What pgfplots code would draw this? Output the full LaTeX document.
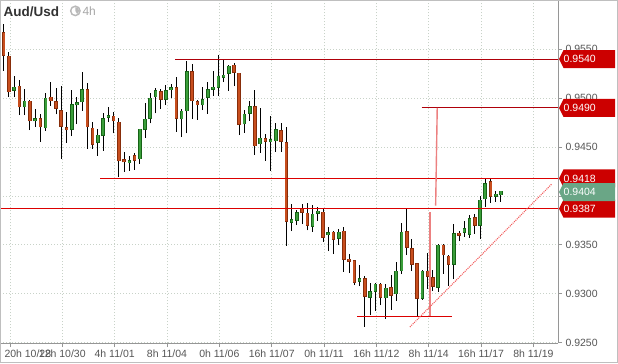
\documentclass[border=0pt]{standalone}
\usepackage{pgfplots}
\pgfplotsset{compat=1.18}
\usepackage{pgfplotstable}
\usepackage{fontspec}
\setmainfont{Liberation Sans}

\definecolor{upfill}{RGB}{58,158,58}
\definecolor{upedge}{RGB}{22,98,22}
\definecolor{dnfill}{RGB}{200,78,30}
\definecolor{dnedge}{RGB}{135,45,10}
\definecolor{lvl}{RGB}{204,0,0}
\definecolor{lvlhi}{RGB}{175,0,10}
\definecolor{lvllo}{RGB}{220,0,0}
\definecolor{lastpx}{RGB}{106,166,134}
\definecolor{proj}{RGB}{236,128,128}
\definecolor{gridc}{RGB}{200,210,200}
\definecolor{axc}{RGB}{150,150,150}
\definecolor{txt}{RGB}{85,85,85}

% AUD/USD, 4-hour candles: index, open, high, low, close
\pgfplotstableread{
n o h l c
1 0.95670 0.95755 0.95279 0.95442
2 0.95428 0.95473 0.95014 0.95065
3 0.95085 0.95224 0.95014 0.95112
4 0.95122 0.95190 0.94827 0.94912
5 0.94912 0.95092 0.94827 0.94969
6 0.94969 0.94986 0.94674 0.94769
7 0.94769 0.94888 0.94708 0.94786
8 0.94786 0.94833 0.94555 0.94708
9 0.94697 0.95054 0.94667 0.94997
10 0.95007 0.95163 0.94922 0.94973
11 0.94959 0.95099 0.94833 0.94901
12 0.94867 0.95122 0.94381 0.94714
13 0.94694 0.94854 0.94544 0.94677
14 0.94680 0.95088 0.94612 0.94935
15 0.94932 0.95014 0.94735 0.94949
16 0.94963 0.95265 0.94871 0.95088
17 0.95088 0.95160 0.94483 0.94708
18 0.94691 0.94752 0.94480 0.94527
19 0.94548 0.94684 0.94412 0.94619
20 0.94619 0.94844 0.94463 0.94786
21 0.94803 0.94905 0.94759 0.94816
22 0.94813 0.94854 0.94640 0.94769
23 0.94752 0.94796 0.94191 0.94361
24 0.94368 0.94446 0.94249 0.94351
25 0.94340 0.94408 0.94259 0.94357
26 0.94408 0.94442 0.94266 0.94364
27 0.94381 0.94687 0.94327 0.94680
28 0.94680 0.94952 0.94595 0.94782
29 0.94793 0.95054 0.94742 0.94997
30 0.95014 0.95102 0.94844 0.95078
31 0.95068 0.95092 0.94891 0.94993
32 0.94993 0.95139 0.94929 0.95078
33 0.95088 0.95146 0.94997 0.95109
34 0.95109 0.95214 0.94657 0.94799
35 0.94789 0.94888 0.94606 0.94864
36 0.94871 0.95377 0.94640 0.95272
37 0.95272 0.95347 0.94786 0.94973
38 0.94959 0.94980 0.94779 0.94935
39 0.94932 0.95112 0.94878 0.94980
40 0.95007 0.95163 0.94840 0.95088
41 0.95095 0.95275 0.95024 0.95112
42 0.95116 0.95439 0.95024 0.95224
43 0.95218 0.95394 0.95163 0.95235
44 0.95258 0.95340 0.95075 0.95326
45 0.95337 0.95360 0.95122 0.95269
46 0.95255 0.95262 0.94623 0.94731
47 0.94738 0.94878 0.94646 0.94833
48 0.94850 0.94969 0.94769 0.94908
49 0.94908 0.95088 0.94422 0.94514
50 0.94534 0.94895 0.94442 0.94589
51 0.94582 0.94633 0.94361 0.94561
52 0.94555 0.94816 0.94259 0.94575
53 0.94565 0.94748 0.94453 0.94674
54 0.94669 0.94743 0.94450 0.94562
55 0.94546 0.94706 0.93489 0.93745
56 0.93735 0.93915 0.93639 0.93752
57 0.93755 0.93854 0.93701 0.93830
58 0.93868 0.93915 0.93711 0.93837
59 0.93823 0.93926 0.93649 0.93704
60 0.93694 0.93905 0.93632 0.93813
61 0.93827 0.93888 0.93745 0.93844
62 0.93833 0.93881 0.93530 0.93581
63 0.93605 0.93680 0.93435 0.93622
64 0.93629 0.93639 0.93404 0.93561
65 0.93571 0.93666 0.93496 0.93629
66 0.93639 0.93684 0.93223 0.93353
67 0.93353 0.93411 0.93210 0.93333
68 0.93333 0.93343 0.93087 0.93121
69 0.93131 0.93298 0.93077 0.93155
70 0.93155 0.93183 0.92661 0.92978
71 0.92968 0.93111 0.92780 0.93019
72 0.93029 0.93107 0.92825 0.93097
73 0.93097 0.93107 0.92883 0.92968
74 0.92958 0.93104 0.92746 0.93056
75 0.93063 0.93189 0.92835 0.92988
76 0.93002 0.93326 0.92927 0.93230
77 0.93237 0.93728 0.93200 0.93629
78 0.93632 0.93871 0.93394 0.93479
79 0.93462 0.93557 0.93230 0.93302
80 0.93302 0.93309 0.92763 0.92951
81 0.92951 0.93247 0.92940 0.93230
82 0.93230 0.93418 0.93053 0.93182
83 0.93165 0.93240 0.93026 0.93080
84 0.93070 0.93513 0.93019 0.93496
85 0.93496 0.93506 0.93206 0.93400
86 0.93383 0.93400 0.93080 0.93305
87 0.93305 0.93717 0.93148 0.93615
88 0.93619 0.93643 0.93537 0.93602
89 0.93632 0.93741 0.93581 0.93660
90 0.93608 0.93809 0.93571 0.93769
91 0.93779 0.93820 0.93615 0.93700
92 0.93700 0.93997 0.93564 0.93956
93 0.93973 0.94171 0.93888 0.94126
94 0.94143 0.94188 0.93932 0.94000
95 0.94000 0.94048 0.93939 0.94017
96 0.94014 0.94048 0.93939 0.94048
}\candles

% price tag on the right axis: #1 anchor coordinate, #2 text, #3 colour
\newcommand{\pricetag}[3]{%
  \fill[#3] ([xshift=1bp]#1) -- ([xshift=5.5bp,yshift=9bp]#1) -- ([xshift=57bp,yshift=9bp]#1)
     -- ([xshift=57bp,yshift=-9bp]#1) -- ([xshift=5.5bp,yshift=-9bp]#1) -- cycle;
  \node[anchor=west, inner sep=0pt, text=white, font=\fontsize{10.5bp}{12bp}\selectfont] at ([xshift=5.5bp,yshift=-0.3bp]#1) {#2};}

\begin{document}
\begin{tikzpicture}
\begin{axis}[
  at={(0,0)}, anchor=south west,
  scale only axis, width=558bp, height=343bp,
  xmin=0.37, xmax=106.9, ymin=0.92494, ymax=0.9600,
  axis x line*=bottom, axis y line*=right,
  axis line style={axc, line width=0.8bp},
  tick align=outside, major tick length=4bp,
  tick style={axc, line width=0.8bp},
  xtick={12.2,22.2,32.2,42.2,52.2,62.2,72.2,82.2,92.2,102.2},
  xticklabels={12h 10/30,4h 11/01,8h 11/04,0h 11/06,16h 11/07,0h 11/11,16h 11/12,8h 11/14,16h 11/17,8h 11/19},
  extra x ticks={2.2}, extra x tick labels={20h 10/28},
  extra x tick style={xticklabel style={anchor=north west, xshift=-9bp}},
  ytick={0.9250,0.9300,0.9350,0.9400,0.9450,0.9500,0.9550},
  scaled y ticks=false,
  yticklabel style={/pgf/number format/fixed, /pgf/number format/precision=4,
    /pgf/number format/fixed zerofill, /pgf/number format/assume math mode=true},
  ticklabel style={text=txt, font=\fontsize{10.5bp}{12bp}\selectfont},
  xticklabel style={yshift=0.5bp},
  grid=major,
  major grid style={gridc, line width=0.8bp, dash pattern=on 1bp off 2bp},
  clip=true,
  unbounded coords=discard,
]
% wicks
\addplot[draw=none, mark=none, forget plot,
  error bars/.cd, y dir=plus, y explicit, error mark=none,
  error bar style={draw=black, line width=1bp, solid}]
  table[x=n, y=l, y error plus expr=\thisrow{h}-\thisrow{l}] {\candles};
% rising bodies
\addplot[draw=none, mark=none, forget plot,
  x filter/.expression={\thisrow{c}<\thisrow{o} ? nan : x},
  error bars/.cd, y dir=plus, y explicit, error mark=none,
  error bar style={draw=upedge, line width=3.6bp, solid}]
  table[x=n, y expr=\thisrow{o}-0.00007, y error plus expr=\thisrow{c}-\thisrow{o}+0.00014] {\candles};
\addplot[draw=none, mark=none, forget plot,
  x filter/.expression={\thisrow{c}<\thisrow{o} ? nan : x},
  error bars/.cd, y dir=plus, y explicit, error mark=none,
  error bar style={draw=upfill, line width=2bp, solid}]
  table[x=n, y=o, y error plus expr=\thisrow{c}-\thisrow{o}] {\candles};
% falling bodies
\addplot[draw=none, mark=none, forget plot,
  x filter/.expression={\thisrow{c}<\thisrow{o} ? x : nan},
  error bars/.cd, y dir=plus, y explicit, error mark=none,
  error bar style={draw=dnedge, line width=3.6bp, solid}]
  table[x=n, y expr=\thisrow{c}-0.00007, y error plus expr=\thisrow{o}-\thisrow{c}+0.00014] {\candles};
\addplot[draw=none, mark=none, forget plot,
  x filter/.expression={\thisrow{c}<\thisrow{o} ? x : nan},
  error bars/.cd, y dir=plus, y explicit, error mark=none,
  error bar style={draw=dnfill, line width=2bp, solid}]
  table[x=n, y=c, y error plus expr=\thisrow{o}-\thisrow{c}] {\candles};

% support / resistance levels
\addplot[lvlhi, line width=1bp] coordinates {(33.8,0.9540) (106.9,0.9540)};
\addplot[lvlhi, line width=1bp] coordinates {(80.85,0.9490) (106.9,0.9490)};
\addplot[lvllo, line width=1bp] coordinates {(19.45,0.9418) (106.9,0.9418)};
\addplot[lvllo, line width=1.1bp] coordinates {(0.37,0.9387) (106.9,0.9387)};
\addplot[lvllo, line width=1.1bp] coordinates {(68.56,0.9277) (86.63,0.9277)};
% measured move projection
\addplot[proj, line width=1.4bp] coordinates {(82.43,0.9277) (82.43,0.9384)};
\addplot[proj, line width=1.4bp] coordinates {(83.52,0.9390) (83.82,0.9490)};
% rising trendline
\addplot[proj!70!red, line width=1.1bp, dash pattern=on 1bp off 1bp] coordinates {(78.6,0.9266) (105.66,0.9412)};

\coordinate (T1) at (axis cs:106.9,0.9540);
\coordinate (T2) at (axis cs:106.9,0.9490);
\coordinate (T3) at (axis cs:106.9,0.9418);
\coordinate (T4) at (axis cs:106.9,0.9404);
\coordinate (T5) at (axis cs:106.9,0.9387);
\end{axis}

\pricetag{T1}{0.9540}{lvl}
\pricetag{T2}{0.9490}{lvl}
\pricetag{T3}{0.9418}{lvl}
\pricetag{T5}{0.9387}{lvl}
\pricetag{T4}{0.9404}{lastpx}

% title and timeframe
\node[anchor=west, inner sep=0pt, text={rgb,255:red,50;green,50;blue,50}, font=\fontsize{13.5bp}{15bp}\selectfont\bfseries] at (3bp,332bp) {Aud/Usd};
\fill[gray!55] (75bp,332.5bp) circle (5.5bp);
\fill[white] (75bp,332.5bp) circle (3.8bp);
\fill[gray!55] (75bp,332.5bp) -- ++(90:3.8bp) arc (90:-60:3.8bp) -- cycle;
\node[anchor=west, inner sep=0pt, text=gray!70, font=\fontsize{12bp}{14bp}\selectfont] at (82bp,332.5bp) {4h};

% outer frame
\draw[gray!50, line width=1bp] (0.5bp,-19.5bp) rectangle (617.5bp,342.5bp);
\useasboundingbox (0,-20bp) rectangle (618bp,343bp);
\end{tikzpicture}
\end{document}
